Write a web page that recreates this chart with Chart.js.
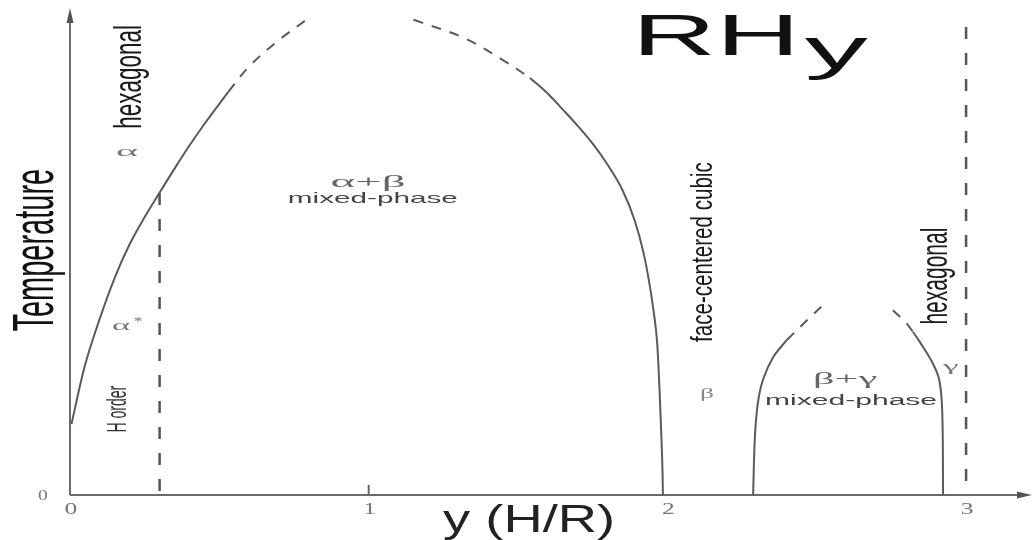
<!DOCTYPE html>
<html>
<head>
<meta charset="utf-8">
<title>RHy phase diagram</title>
<script src="https://cdn.jsdelivr.net/npm/chart.js@4.4.1/dist/chart.umd.min.js"></script>
<style>
  html, body { margin: 0; padding: 0; background: #ffffff; }
  #wrap { width: 1032px; height: 540px; }
</style>
</head>
<body>
<div id="wrap"><canvas id="chart" width="1032" height="540"></canvas></div>
<script>
// Phase boundaries of RHy: composition y (H/R) vs temperature (arbitrary units, 0-100)

// alpha / (alpha+beta) boundary
const alphaSolidX = [0.005, 0.05, 0.10, 0.15, 0.20, 0.25, 0.30, 0.35, 0.40, 0.45, 0.50, 0.53];
const alphaSolidT = [14.8, 27.0, 36.8, 45.3, 52.3, 57.9, 63.0, 68.0, 72.8, 77.3, 81.5, 84.0];
const alphaDashX  = [0.53, 0.60, 0.70, 0.80];
const alphaDashT  = [84.0, 89.3, 94.8, 99.4];

// (alpha+beta) / beta boundary
const betaDashX  = [1.15, 1.32, 1.46, 1.54];
const betaDashT  = [99.0, 95.2, 90.2, 86.9];
const betaSolidX = [1.54, 1.60, 1.65, 1.70, 1.75, 1.80, 1.85, 1.89, 1.92, 1.94, 1.955, 1.966, 1.974, 1.980, 1.984, 1.985];
const betaSolidT = [86.9, 83.6, 80.3, 76.9, 73.2, 68.8, 63.5, 57.3, 50.5, 44.0, 37.8, 31.5, 21.5, 12.0, 4.0, 0.0];

// beta / (beta+gamma) boundary
const bgLeftSolidX = [2.287, 2.293, 2.303, 2.320, 2.354, 2.400];
const bgLeftSolidT = [0.0, 12.1, 19.2, 24.0, 28.7, 32.3];
const bgLeftDashX  = [2.400, 2.469, 2.515];
const bgLeftDashT  = [32.3, 36.5, 39.2];

// (beta+gamma) / gamma boundary
const bgRightDashX  = [2.755, 2.797, 2.822];
const bgRightDashT  = [38.5, 36.0, 34.0];
const bgRightSolidX = [2.822, 2.845, 2.888, 2.910, 2.920, 2.923];
const bgRightSolidT = [34.0, 31.9, 27.5, 24.0, 17.7, 0.0];

// vertical composition markers (drawn top to bottom)
const orderLineX = [0.3, 0.3];
const orderLineT = [62.9, 0];
const gammaLineX = [3.0, 3.0];
const gammaLineT = [97.5, 0];

// axis tick labels
const xTickValues = [0, 1, 2, 3];
const xTickLabels = ['0', '1', '2', '3'];
const yTickValues = [0];
const yTickLabels = ['0'];

const pts = (xs, ys) => xs.map((x, i) => ({ x: x, y: ys[i] }));

const LINE = '#5a5a5a';
function boundary(xs, ys, dashed, monotone) {
  const ds = {
    data: pts(xs, ys),
    showLine: true,
    borderColor: LINE,
    borderWidth: 2,
    borderDash: dashed ? [10, 9] : [],
    pointRadius: 0,
    fill: false
  };
  if (monotone) ds.cubicInterpolationMode = 'monotone';
  else ds.tension = 0.35;
  return ds;
}
function marker(xs, ys) {
  return {
    data: pts(xs, ys),
    showLine: true,
    borderColor: '#555555',
    borderWidth: 2.5,
    borderDash: [12, 14],
    pointRadius: 0,
    fill: false
  };
}

// text placed in data coordinates; w = target width (px), sx = horizontal stretch
const SANS = '"Liberation Sans", Arial, sans-serif';
const SERIF = '"Liberation Serif", "Times New Roman", serif';
const labels = [
  { text: 'RH', x: 2.163, y: 91.7, size: 58, font: SANS, color: '#111', w: 168 },
  { text: 'y', x: 2.565, y: 89.0, size: 58, font: SANS, color: '#111', w: 63 },
  { text: 'Temperature', x: -0.057, y: 51.0, size: 29, font: SANS, color: '#111', sx: 2.0, vertical: true },
  { text: 'hexagonal', x: 0.238, y: 87.1, size: 22.5, font: SANS, color: '#1a1a1a', sx: 1.7, vertical: true },
  { text: 'α', x: 0.191, y: 70.6, size: 14, font: SERIF, color: '#777', w: 22 },
  { text: 'α', x: 0.171, y: 34.4, size: 15, font: SERIF, color: '#777', w: 18 },
  { text: '*', x: 0.228, y: 35.4, size: 12, font: SERIF, color: '#777', w: 9 },
  { text: 'H order', x: 0.187, y: 17.9, size: 14, font: SANS, color: '#333', sx: 2.0, vertical: true },
  { text: 'α+β', x: 0.998, y: 64.2, size: 17, font: SERIF, color: '#666', w: 75 },
  { text: 'mixed-phase', x: 1.014, y: 60.8, size: 15, font: SANS, color: '#444', w: 170 },
  { text: 'face-centered cubic', x: 2.149, y: 50.6, size: 20.6, font: SANS, color: '#1a1a1a', sx: 1.46, vertical: true },
  { text: 'β', x: 2.133, y: 20.2, size: 15, font: SERIF, color: '#888', w: 14 },
  { text: 'β+γ', x: 2.595, y: 23.1, size: 17, font: SERIF, color: '#666', w: 64 },
  { text: 'mixed-phase', x: 2.615, y: 18.75, size: 14, font: SANS, color: '#444', w: 172 },
  { text: 'γ', x: 2.949, y: 25.8, size: 15, font: SERIF, color: '#777', w: 16 },
  { text: 'hexagonal', x: 2.936, y: 45.6, size: 21, font: SANS, color: '#1a1a1a', sx: 1.76, vertical: true },
  { text: 'y (H/R)', x: 1.537, y: -7.7, size: 38, font: SANS, color: '#222', w: 172 }
];

function drawLabel(ctx, spec, px, py) {
  ctx.save();
  ctx.font = `${spec.weight || 'normal'} ${spec.size}px ${spec.font}`;
  ctx.fillStyle = spec.color;
  ctx.textAlign = 'center';
  ctx.textBaseline = 'alphabetic';
  ctx.translate(px, py);
  if (spec.vertical) {
    ctx.scale(spec.sx || 1, 1);
    ctx.rotate(-Math.PI / 2);
  } else {
    const m = ctx.measureText(spec.text).width;
    ctx.scale(spec.w ? spec.w / m : (spec.sx || 1), 1);
  }
  ctx.fillText(spec.text, 0, 0);
  ctx.restore();
}

// axes with arrowheads, tick marks, tick labels and all annotations
const decorations = {
  id: 'decorations',
  beforeDatasetsDraw(chart) {
    const ctx = chart.ctx;
    const xs = chart.scales.x, ys = chart.scales.y;
    const x0 = xs.getPixelForValue(0), y0 = ys.getPixelForValue(0);
    const xEnd = chart.width, yTop = ys.getPixelForValue(ys.max);
    ctx.save();
    ctx.strokeStyle = '#6a6a6a';
    ctx.fillStyle = '#555';
    ctx.lineWidth = 2;
    ctx.beginPath();
    ctx.moveTo(x0, y0); ctx.lineTo(xEnd - 8, y0);
    ctx.moveTo(x0, y0); ctx.lineTo(x0, yTop + 4);
    ctx.stroke();
    // arrowheads
    ctx.beginPath();
    ctx.moveTo(xEnd, y0); ctx.lineTo(xEnd - 15, y0 - 3.5); ctx.lineTo(xEnd - 15, y0 + 3.5); ctx.closePath();
    ctx.fill();
    ctx.beginPath();
    ctx.moveTo(x0, yTop - 7); ctx.lineTo(x0 - 3.5, yTop + 8); ctx.lineTo(x0 + 3.5, yTop + 8); ctx.closePath();
    ctx.fill();
    // tick mark at 1
    ctx.lineWidth = 2;
    ctx.beginPath();
    const t1 = xs.getPixelForValue(1);
    ctx.moveTo(t1, y0); ctx.lineTo(t1, y0 - 10);
    ctx.stroke();
    ctx.restore();

    xTickValues.forEach((v, i) => {
      drawLabel(ctx, { text: xTickLabels[i], size: 16, font: SERIF, color: '#777', sx: 1.6 },
        xs.getPixelForValue(v) + 1, y0 + 19);
    });
    yTickValues.forEach((v, i) => {
      drawLabel(ctx, { text: yTickLabels[i], size: 14, font: SERIF, color: '#777', sx: 1.4 },
        x0 - 27, ys.getPixelForValue(v) + 5);
    });
    labels.forEach(l => drawLabel(ctx, l, xs.getPixelForValue(l.x), ys.getPixelForValue(l.y)));
  }
};

new Chart(document.getElementById('chart'), {
  type: 'scatter',
  data: {
    datasets: [
      boundary(alphaSolidX, alphaSolidT, false, false),
      boundary(alphaDashX, alphaDashT, true, false),
      boundary(betaDashX, betaDashT, true, false),
      boundary(betaSolidX, betaSolidT, false, true),
      boundary(bgLeftSolidX, bgLeftSolidT, false, false),
      boundary(bgLeftDashX, bgLeftDashT, true, false),
      boundary(bgRightDashX, bgRightDashT, true, false),
      boundary(bgRightSolidX, bgRightSolidT, false, false),
      marker(orderLineX, orderLineT),
      marker(gammaLineX, gammaLineT)
    ]
  },
  options: {
    responsive: false,
    animation: false,
    layout: { padding: { left: 70, right: 2, top: 15, bottom: 45 } },
    plugins: { legend: { display: false }, tooltip: { enabled: false } },
    scales: {
      x: { type: 'linear', min: 0, max: 3.214, display: false },
      y: { type: 'linear', min: 0, max: 100, display: false }
    }
  },
  plugins: [decorations]
});
</script>
</body>
</html>
